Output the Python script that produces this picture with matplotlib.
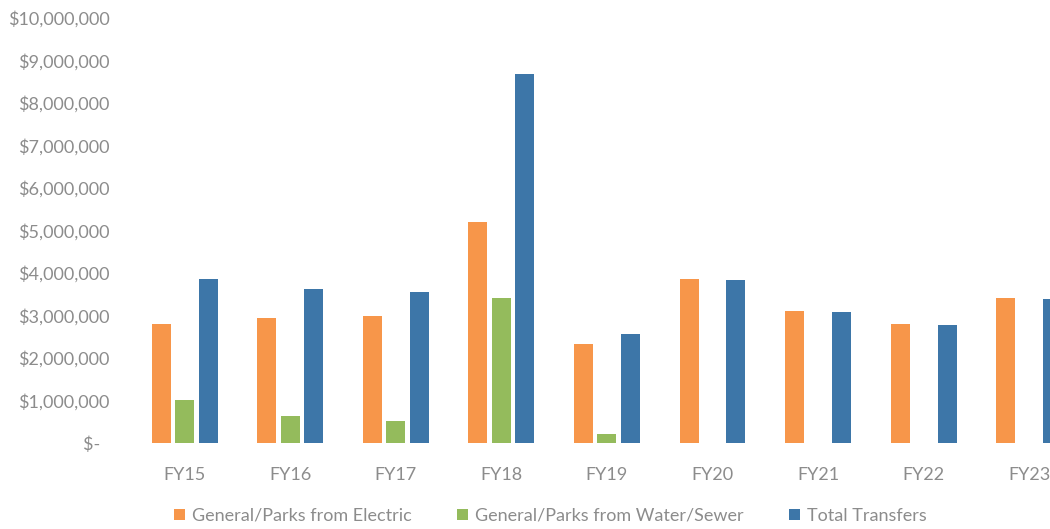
import matplotlib
matplotlib.use("Agg")
import matplotlib.pyplot as plt
import numpy as np

years = ["FY15", "FY16", "FY17", "FY18", "FY19", "FY20", "FY21", "FY22", "FY23"]
electric = [2790000, 2950000, 2980000, 5190000, 2340000, 3860000, 3100000, 2790000, 3400000]
water_sewer = [1020000, 630000, 510000, 3420000, 200000, 0, 0, 0, 0]
total = [3860000, 3620000, 3550000, 8690000, 2570000, 3840000, 3090000, 2770000, 3390000]

series_names = ["General/Parks from Electric", "General/Parks from Water/Sewer", "Total Transfers"]
colors = ["#F7964A", "#94BB5C", "#3D76A8"]
text_gray = "#8C8C8C"

plt.rcParams['font.family'] = ['Lato', 'DejaVu Sans']

fig = plt.figure(figsize=(10.5, 5.29), dpi=100)
ax = fig.add_axes([0.1255, 0.1626, 0.905, 0.8034])

x = np.arange(len(years))
step = 0.222
width = 0.18
for i, (vals, name, c) in enumerate(zip([electric, water_sewer, total], series_names, colors)):
    ax.bar(x + (i - 1) * step, vals, width=width, color=c, label=name)

ax.set_xlim(-0.5, len(years) - 0.5)
ax.set_ylim(0, 10000000)
ax.set_xticks(x)
ax.set_xticklabels(years)
yt = np.arange(0, 10000001, 1000000)
ax.set_yticks(yt)
ax.set_yticklabels(["$-  "] + ["${:,}".format(int(v)) for v in yt[1:]])

ax.tick_params(axis="both", length=0, colors=text_gray, labelsize=13)
ax.tick_params(axis="y", pad=16)
ax.tick_params(axis="x", pad=17)
for s in ax.spines.values():
    s.set_visible(False)

fig.legend(loc="center", bbox_to_anchor=(0.524, 0.025), ncol=3, frameon=False,
           fontsize=13, labelcolor=text_gray, handlelength=0.6, handleheight=0.6,
           handletextpad=0.4, columnspacing=2.5)

fig.savefig("out.png", dpi=100)
